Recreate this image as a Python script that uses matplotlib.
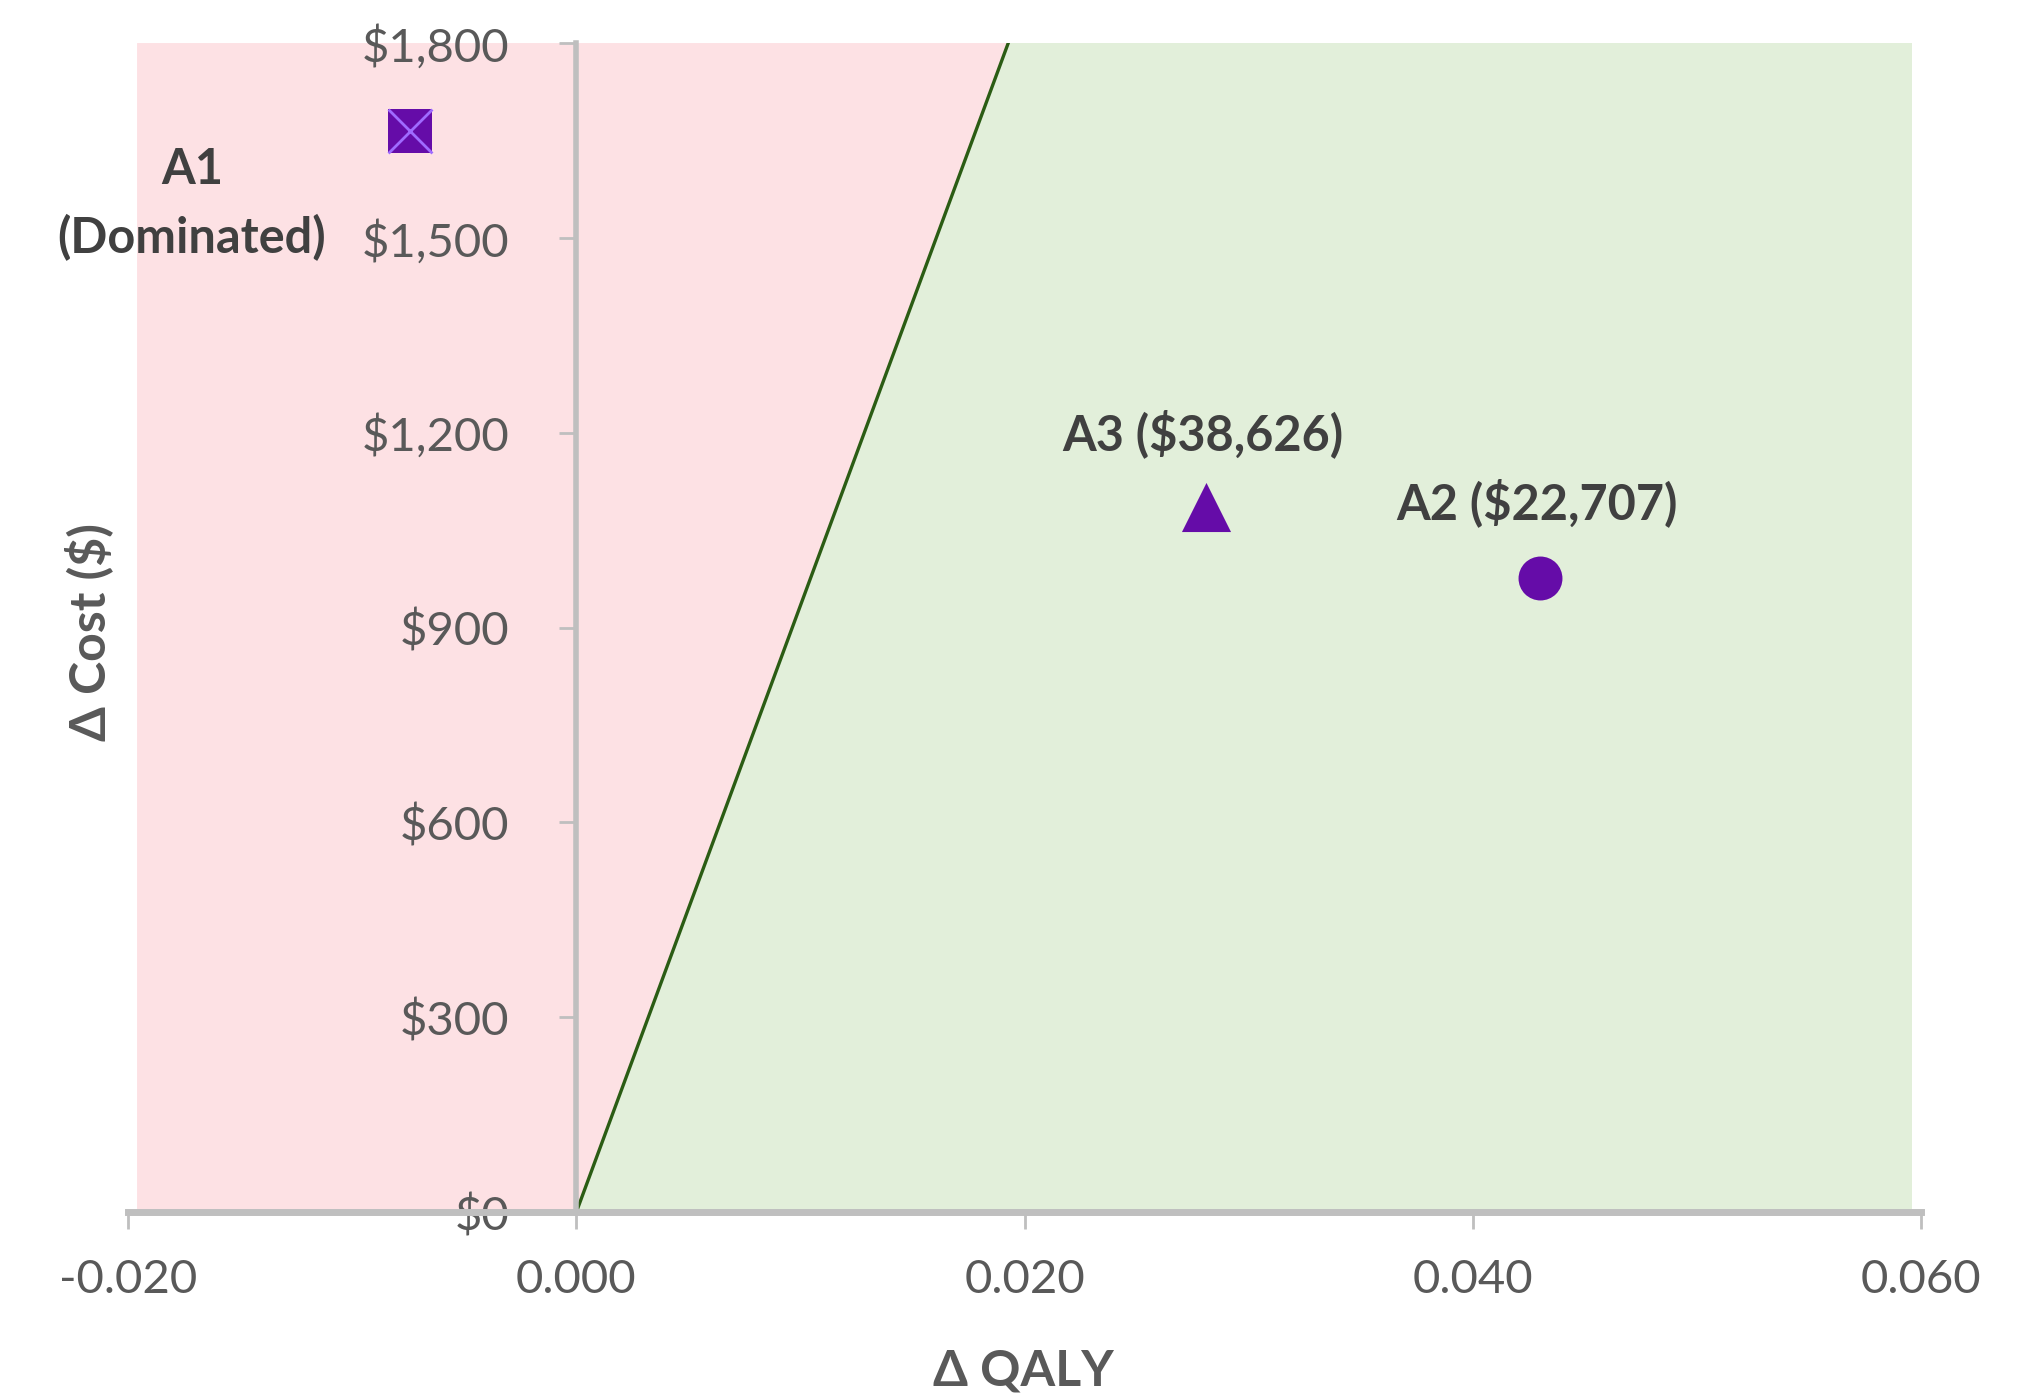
import numpy as np
import matplotlib
matplotlib.use("Agg")
import matplotlib.pyplot as plt
from matplotlib.ticker import FuncFormatter

plt.rcParams['font.family'] = ['Lato', 'DejaVu Sans']

# strategies: incremental QALY and cost vs. comparator
names = ["A1\n(Dominated)", "A2 ($22,707)", "A3 ($38,626)"]
d_qaly = [-0.0074, 0.0430, 0.0281]
d_cost = [1665, 977, 1085]
markers = ["s", "o", "^"]

# willingness-to-pay line ($ per QALY)
wtp = 93400
x_ticks = [-0.020, 0.000, 0.020, 0.040, 0.060]
y_ticks = [0, 300, 600, 900, 1200, 1500, 1800]

purple = "#650ca8"
grid_gray = "#bfbfbf"
tick_gray = "#595959"
text_gray = "#404040"

fig = plt.figure(figsize=(20.43, 13.98), dpi=100)
ax = fig.add_axes([0.0627, 0.1330, 0.8776, 0.8362])
ax.set_xlim(-0.020, 0.060)
ax.set_ylim(0, 1800)

# shaded regions either side of the WTP line
xl, xr = -0.0196, 0.0596
ytop = 1800
x_cross = ytop / wtp
ax.fill([xl, 0, x_cross, xl], [0, 0, ytop, ytop], color="#fde1e4", lw=0, zorder=0)
ax.fill([0, xr, xr, x_cross], [0, 0, ytop, ytop], color="#e2efda", lw=0, zorder=0)
ax.plot([0, x_cross], [0, ytop], color="#2b5c14", lw=2.4, zorder=2)

# points
for i in range(len(names)):
    if markers[i] == "s":
        ax.scatter(d_qaly[i], d_cost[i], marker="s", s=1000, color=purple, zorder=4, linewidths=0)
        ax.scatter(d_qaly[i], d_cost[i], marker="x", s=1000, color="#9f6bff", zorder=5, linewidths=2)
    elif markers[i] == "^":
        ax.scatter(d_qaly[i], d_cost[i], marker="^", s=1250, color=purple, zorder=4, linewidths=0)
    else:
        ax.scatter(d_qaly[i], d_cost[i], marker="o", s=1000, color=purple, zorder=4, linewidths=0)

lab_kw = dict(fontsize=35, fontweight="bold", color=text_gray, ha="center", va="center", zorder=6)
ax.text(-0.01715, 1552, names[0], linespacing=1.55, **lab_kw)
ax.text(0.04285, 1093, names[1], **lab_kw)
ax.text(0.02795, 1198, names[2], **lab_kw)

# axes crossing at the origin
for s in ["top", "right"]:
    ax.spines[s].set_visible(False)
ax.spines["left"].set_position(("data", 0))
ax.spines["bottom"].set_position(("data", 0))
ax.spines["left"].set_color(grid_gray)
ax.spines["bottom"].set_color(grid_gray)
ax.spines["left"].set_linewidth(4)
ax.spines["bottom"].set_linewidth(5)
ax.spines["left"].set_zorder(3)
ax.spines["bottom"].set_zorder(3)

ax.set_xticks(x_ticks)
ax.set_yticks(y_ticks)
ax.xaxis.set_major_formatter(FuncFormatter(lambda v, p: f"{v:.3f}"))
ax.yaxis.set_major_formatter(FuncFormatter(lambda v, p: f"${v:,.0f}"))
ax.tick_params(axis="x", direction="out", length=12, width=2, color=grid_gray,
               labelsize=34, labelcolor=tick_gray, pad=22)
ax.tick_params(axis="y", direction="out", length=12, width=2, color=grid_gray,
               labelsize=34, labelcolor=tick_gray, pad=36)

fig.text(1023 / 2043, 1 - 1371 / 1398, "Δ QALY", fontsize=36, fontweight="bold",
         color=tick_gray, ha="center", va="center")
fig.text(89 / 2043, 1 - 632 / 1398, "Δ Cost ($)", fontsize=36, fontweight="bold",
         color=tick_gray, ha="center", va="center", rotation=90)

fig.savefig("out.png", dpi=100)
